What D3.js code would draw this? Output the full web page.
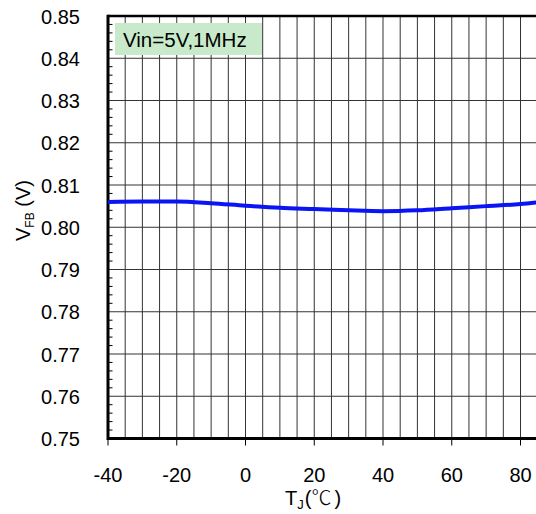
<!DOCTYPE html>
<html>
<head>
<meta charset="utf-8">
<script src="https://cdn.jsdelivr.net/npm/d3@7"></script>
<style>
  body { margin: 0; background: #fff; }
  text { font-family: "Liberation Sans", Arial, sans-serif; fill: #000; }
</style>
</head>
<body>
<svg id="chart" width="536" height="514"></svg>
<script>
// Data
const temps = [-40, -30, -20, -10, 0, 10, 20, 30, 40, 50, 60, 70, 80, 85];
const vfb = [0.8060, 0.8061, 0.8061, 0.8057, 0.8051, 0.8046, 0.8043, 0.8040, 0.8038, 0.8040, 0.8045, 0.8050, 0.8055, 0.8059];
const xTicks = [-40, -20, 0, 20, 40, 60, 80];
const yTicks = [0.75, 0.76, 0.77, 0.78, 0.79, 0.80, 0.81, 0.82, 0.83, 0.84, 0.85];
const legendText = "Vin=5V,1MHz";

const svg = d3.select("#chart");
const L = 108, T = 16, B = 438.5;
const x = d3.scaleLinear().domain([-40, 85]).range([L, L + 125 * 68.75 / 20]);
const y = d3.scaleLinear().domain([0.75, 0.85]).range([B, T]);
const R = 540;

// vertical grid every 5
const vGrid = d3.range(-35, 86, 5);
svg.append("g").selectAll("line").data(vGrid).join("line")
  .attr("x1", d => x(d)).attr("x2", d => x(d))
  .attr("y1", T).attr("y2", B)
  .attr("stroke", "#333").attr("stroke-width", 1);
// horizontal grid
svg.append("g").selectAll("line").data(yTicks.slice(1, -1)).join("line")
  .attr("x1", L).attr("x2", R)
  .attr("y1", d => y(d)).attr("y2", d => y(d))
  .attr("stroke", "#333").attr("stroke-width", 1);

// minor ticks on left
const minor = d3.range(0, 50).map(i => 0.75 + i * 0.002).filter((d, i) => i % 5 !== 0);
svg.append("g").selectAll("line").data(minor).join("line")
  .attr("x1", L).attr("x2", L + 4.5)
  .attr("y1", d => y(d)).attr("y2", d => y(d))
  .attr("stroke", "#000").attr("stroke-width", 1);

// bottom ticks
svg.append("g").selectAll("line").data(xTicks).join("line")
  .attr("x1", d => x(d)).attr("x2", d => x(d))
  .attr("y1", B).attr("y2", B + 7)
  .attr("stroke", "#000").attr("stroke-width", 1);

// frame
svg.append("line").attr("x1", L).attr("x2", R).attr("y1", T).attr("y2", T)
  .attr("stroke", "#000").attr("stroke-width", 2.5);
svg.append("line").attr("x1", L).attr("x2", R).attr("y1", B).attr("y2", B)
  .attr("stroke", "#000").attr("stroke-width", 3);
svg.append("line").attr("x1", L).attr("x2", L).attr("y1", T - 1.2).attr("y2", B + 1.5)
  .attr("stroke", "#000").attr("stroke-width", 3);

// legend box
svg.append("rect").attr("x", 115).attr("y", 23).attr("width", 147).attr("height", 32)
  .attr("fill", "#c8eacb");
svg.append("text").attr("x", 123).attr("y", 46.5).attr("font-size", 20.5)
  .text(legendText);

// curve
const line = d3.line().x((d, i) => x(temps[i])).y(d => y(d)).curve(d3.curveMonotoneX);
svg.append("path").datum(vfb).attr("d", line)
  .attr("fill", "none").attr("stroke", "#0a14f5").attr("stroke-width", 4);

// y tick labels
svg.append("g").selectAll("text").data(yTicks).join("text")
  .attr("x", 80).attr("y", d => y(d) + 7.5)
  .attr("text-anchor", "end").attr("font-size", 20)
  .text(d => d.toFixed(2));

// x tick labels
svg.append("g").selectAll("text").data(xTicks).join("text")
  .attr("x", d => x(d)).attr("y", 481.5)
  .attr("text-anchor", "middle").attr("font-size", 20)
  .text(d => d);

// x title
const xt = svg.append("text").attr("x", 285).attr("y", 505).attr("font-size", 20);
xt.append("tspan").text("T");
xt.append("tspan").attr("font-size", 13).attr("dy", 4).text("J");
xt.append("tspan").attr("dy", -4).attr("dx", 1).text("(");
xt.append("tspan").attr("style", "font-family:'Noto Sans CJK SC'; font-weight:300").attr("font-size", 20).text("℃");
xt.append("tspan").attr("dx", 3).text(")");

// y title
const yt = svg.append("text").attr("transform", "translate(30,241) rotate(-90)")
  .attr("font-size", 20);
yt.append("tspan").text("V");
yt.append("tspan").attr("font-size", 12).attr("dy", 4).text("FB");
yt.append("tspan").attr("dy", -4).text(" (V)");
</script>
</body>
</html>
